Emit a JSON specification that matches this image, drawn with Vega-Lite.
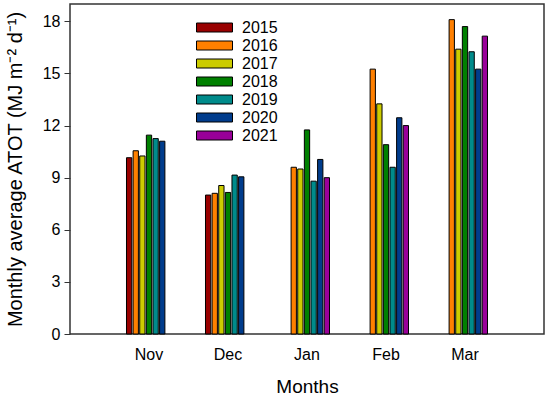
{
  "$schema": "https://vega.github.io/schema/vega-lite/v6.json",
  "width": 474,
  "height": 330,
  "autosize": {"type": "none"},
  "padding": {"left": 70, "top": 4, "right": 6, "bottom": 65},
  "background": "white",
  "config": {
    "view": {"stroke": "#333333", "strokeWidth": 1.5},
    "font": "Liberation Sans"
  },
  "data": {
    "values": [
      {"month": "Nov", "year": "2015", "value": 10.15},
      {"month": "Nov", "year": "2016", "value": 10.55},
      {"month": "Nov", "year": "2017", "value": 10.25},
      {"month": "Nov", "year": "2018", "value": 11.45},
      {"month": "Nov", "year": "2019", "value": 11.25},
      {"month": "Nov", "year": "2020", "value": 11.1},
      {"month": "Dec", "year": "2015", "value": 8.0},
      {"month": "Dec", "year": "2016", "value": 8.1},
      {"month": "Dec", "year": "2017", "value": 8.55},
      {"month": "Dec", "year": "2018", "value": 8.15},
      {"month": "Dec", "year": "2019", "value": 9.15},
      {"month": "Dec", "year": "2020", "value": 9.05},
      {"month": "Jan", "year": "2016", "value": 9.6},
      {"month": "Jan", "year": "2017", "value": 9.5},
      {"month": "Jan", "year": "2018", "value": 11.75},
      {"month": "Jan", "year": "2019", "value": 8.8},
      {"month": "Jan", "year": "2020", "value": 10.05},
      {"month": "Jan", "year": "2021", "value": 9.0},
      {"month": "Feb", "year": "2016", "value": 15.25},
      {"month": "Feb", "year": "2017", "value": 13.25},
      {"month": "Feb", "year": "2018", "value": 10.9},
      {"month": "Feb", "year": "2019", "value": 9.6},
      {"month": "Feb", "year": "2020", "value": 12.45},
      {"month": "Feb", "year": "2021", "value": 12.0},
      {"month": "Mar", "year": "2016", "value": 18.1},
      {"month": "Mar", "year": "2017", "value": 16.4},
      {"month": "Mar", "year": "2018", "value": 17.7},
      {"month": "Mar", "year": "2019", "value": 16.25},
      {"month": "Mar", "year": "2020", "value": 15.25},
      {"month": "Mar", "year": "2021", "value": 17.15}
    ]
  },
  "mark": {"type": "bar", "stroke": "black", "strokeWidth": 1},
  "encoding": {
    "x": {
      "field": "month",
      "type": "nominal",
      "sort": ["Nov", "Dec", "Jan", "Feb", "Mar"],
      "scale": {"paddingInner": 0.43, "paddingOuter": 0.715},
      "axis": {
        "title": "Months",
        "titleFontSize": 19,
        "titleFontWeight": "normal",
        "titleColor": "black",
        "titlePadding": 15,
        "labelAngle": 0,
        "labelFontSize": 16,
        "labelColor": "black",
        "labelPadding": 12,
        "ticks": false,
        "domain": false,
        "grid": false
      }
    },
    "xOffset": {
      "field": "year",
      "type": "nominal",
      "scale": {"domain": ["2015", "2016", "2017", "2018", "2019", "2020", "2021"], "paddingInner": 0.2}
    },
    "y": {
      "field": "value",
      "type": "quantitative",
      "scale": {"domain": [0, 19], "nice": false},
      "axis": {
        "title": "Monthly average ATOT (MJ m⁻² d⁻¹)",
        "titleFontSize": 20,
        "titleFontWeight": "normal",
        "titleColor": "black",
        "titlePadding": 17,
        "values": [0, 3, 6, 9, 12, 15, 18],
        "labelFontSize": 16,
        "labelColor": "black",
        "labelPadding": 4,
        "tickSize": 6,
        "tickColor": "#333333",
        "domain": false,
        "grid": false
      }
    },
    "color": {
      "field": "year",
      "type": "nominal",
      "scale": {
        "domain": ["2015", "2016", "2017", "2018", "2019", "2020", "2021"],
        "range": ["#990000", "#FF8000", "#CCCC00", "#008000", "#008B8B", "#003C8C", "#990099"]
      },
      "legend": {
        "title": null,
        "orient": "none",
        "legendX": 135,
        "legendY": 14,
        "symbolType": "M-2,-0.5H2V0.5H-2Z",
        "symbolSize": 324,
        "symbolStrokeColor": "black",
        "symbolStrokeWidth": 1,
        "symbolOpacity": 1,
        "labelFontSize": 16,
        "labelColor": "black",
        "labelOffset": 18,
        "rowPadding": -0.5
      }
    }
  }
}
